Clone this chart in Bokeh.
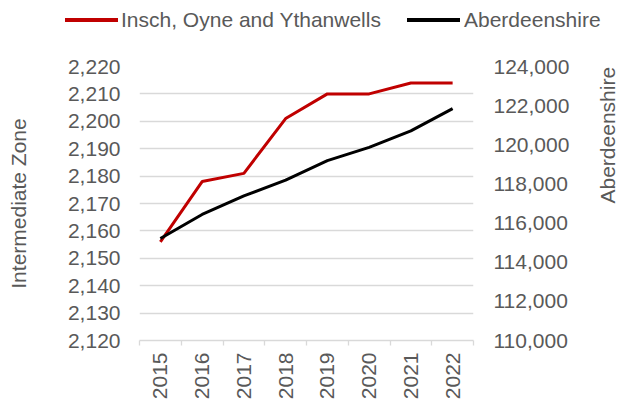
from math import pi
from bokeh.plotting import figure
from bokeh.layouts import column
from bokeh.models import (Range1d, LinearAxis, FixedTicker, NumeralTickFormatter, Div)
from bokeh.embed import file_html
from bokeh.resources import INLINE

years = ["2015", "2016", "2017", "2018", "2019", "2020", "2021", "2022"]
insch = [2156, 2178, 2181, 2201, 2210, 2210, 2214, 2214]
aberdeenshire = [115210, 116440, 117390, 118190, 119190, 119870, 120710, 121850]
left_ticks = [2120, 2130, 2140, 2150, 2160, 2170, 2180, 2190, 2200, 2210, 2220]
right_ticks = [110000, 112000, 114000, 116000, 118000, 120000, 122000, 124000]
series_names = ["Insch, Oyne and Ythanwells", "Aberdeenshire"]
series_colors = ["#c00000", "black"]

FONT = "Liberation Sans"
GREY = "#595959"
GRID = "#d9d9d9"
FS = "21px"

xs = [i + 0.5 for i in range(len(years))]
bounds = list(range(len(years) + 1))

p = figure(width=633, height=358, output_backend="svg", toolbar_location=None,
           x_range=Range1d(0, len(years)), y_range=Range1d(2120, 2220),
           min_border_left=139, min_border_right=155, min_border_top=22,
           min_border_bottom=59)
p.extra_y_ranges = {"right": Range1d(110000, 124000)}
p.outline_line_color = None
p.background_fill_color = "white"

# x axis
xa = p.xaxis[0]
xa.ticker = FixedTicker(ticks=xs, minor_ticks=bounds)
xa.major_label_overrides = {x: y for x, y in zip(xs, years)}
xa.major_label_orientation = pi / 2
xa.major_tick_line_color = None
xa.major_tick_out = 5
xa.major_tick_in = 0
xa.minor_tick_line_color = GRID
xa.minor_tick_line_width = 1.3
xa.minor_tick_out = 5
xa.minor_tick_in = 0
xa.axis_line_color = GRID
xa.axis_line_width = 1.3
xa.major_label_standoff = 7
xa.major_label_text_font = FONT
xa.major_label_text_font_size = FS
xa.major_label_text_color = GREY

# left axis
ya = p.yaxis[0]
ya.ticker = FixedTicker(ticks=left_ticks)
ya.formatter = NumeralTickFormatter(format="0,0")
ya.axis_line_color = None
ya.major_tick_line_color = None
ya.minor_tick_line_color = None
ya.major_tick_out = 0
ya.major_tick_in = 0
ya.major_label_standoff = 19
ya.major_label_text_font = FONT
ya.major_label_text_font_size = FS
ya.major_label_text_color = GREY
ya.axis_label = "Intermediate Zone"
ya.axis_label_text_font = FONT
ya.axis_label_text_font_size = FS
ya.axis_label_text_font_style = "normal"
ya.axis_label_text_color = GREY
ya.axis_label_standoff = 35

# right axis
ra = LinearAxis(y_range_name="right", ticker=FixedTicker(ticks=right_ticks),
                formatter=NumeralTickFormatter(format="0,0"))
ra.axis_line_color = None
ra.major_tick_line_color = None
ra.minor_tick_line_color = None
ra.major_tick_out = 0
ra.major_tick_in = 0
ra.major_label_standoff = 20
ra.major_label_text_font = FONT
ra.major_label_text_font_size = FS
ra.major_label_text_color = GREY
ra.axis_label = "Aberdeenshire"
ra.axis_label_text_font = FONT
ra.axis_label_text_font_size = FS
ra.axis_label_text_font_style = "normal"
ra.axis_label_text_color = GREY
ra.axis_label_standoff = 35
ra.axis_label_orientation = pi / 2
p.add_layout(ra, "right")

p.xgrid.visible = False
p.ygrid.ticker = FixedTicker(ticks=left_ticks)
p.ygrid.grid_line_color = GRID
p.ygrid.grid_line_width = 1.3

p.line(xs, insch, line_color=series_colors[0], line_width=3)
p.line(xs, aberdeenshire, line_color=series_colors[1], line_width=3, y_range_name="right")

# legend strip above the chart (HTML text)
key_left = [65, 407]
text_left = [121, 464]
parts = []
for name, col, kl, tl in zip(series_names, series_colors, key_left, text_left):
    parts.append(
        f'<span style="position:absolute;left:{kl}px;top:18px;width:53px;height:3.5px;'
        f'background:{col};"></span>'
        f'<span style="position:absolute;left:{tl}px;top:8px;line-height:24px;'
        f'white-space:nowrap;">{name}</span>')
html = (f'<div style="position:relative;width:633px;height:44px;font-family:\'{FONT}\';'
        f'font-size:{FS};color:{GREY};">' + "".join(parts) + '</div>')
lg = Div(text=html, width=633, height=44, margin=(0, 0, 0, 0))

open("out.html", "w").write(file_html(column(lg, p, spacing=0), INLINE))
